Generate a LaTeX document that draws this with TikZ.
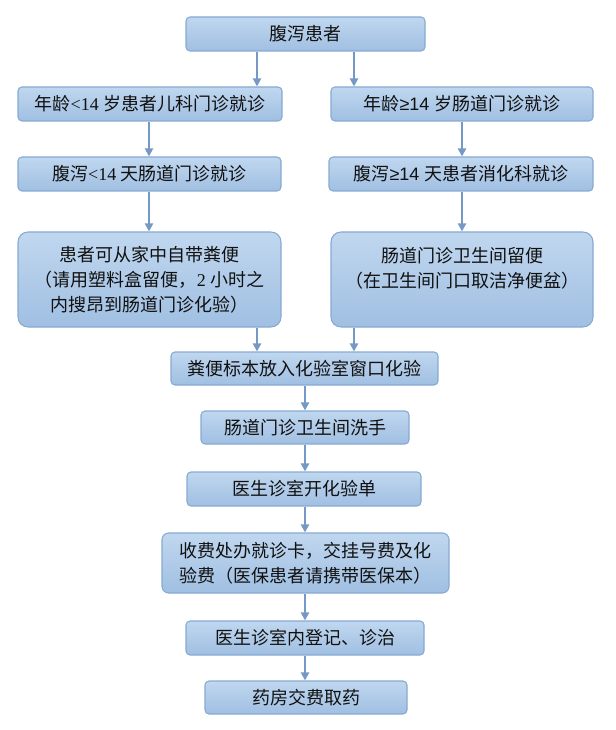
\documentclass[tikz,border=0pt]{standalone}
\usepackage{fontspec}
\setmainfont{Noto Sans CJK SC}
\newfontfamily\lsans{Liberation Sans}
\newfontfamily\lserif{Liberation Serif}
\usetikzlibrary{arrows.meta}
\definecolor{boxtop}{HTML}{C0D7EF}
\definecolor{boxbot}{HTML}{A0BFE2}
\definecolor{boxline}{HTML}{86AAD2}
\definecolor{arrcol}{HTML}{7499C4}
\definecolor{txt}{HTML}{111111}
\tikzset{
  box/.style={draw=boxline, line width=0.8pt, top color=boxtop, bottom color=boxbot,
    rounded corners=3pt, inner sep=0pt, text=txt, align=center,
    font=\fontsize{13.5pt}{18.75pt}\selectfont},
  bigbox/.style={box, rounded corners=7.5pt},
  arr/.style={draw=arrcol, line width=1.5pt, -{Triangle[width=6pt,length=6pt]}, arrcol}
}
\begin{document}
\begin{tikzpicture}[x=0.75pt,y=-0.75pt]
\useasboundingbox (0,0) rectangle (615,730);
\node[box, minimum width=179.25pt, minimum height=25.5pt] (top) at (305.5,34) {腹泻患者};
\node[box, minimum width=198pt, minimum height=25.5pt] (L1) at (150,104) {年龄{\lserif<14 }岁患者儿科门诊就诊};
\node[box, minimum width=196.5pt, minimum height=25.5pt] (R1) at (462,104) {年龄{\lsans ≥14 }岁肠道门诊就诊};
\node[box, minimum width=197.25pt, minimum height=25.5pt] (L2) at (149.5,174) {腹泻{\lserif<14 }天肠道门诊就诊};
\node[box, minimum width=198pt, minimum height=25.5pt] (R2) at (461,174) {腹泻{\lsans ≥14 }天患者消化科就诊};
\node[bigbox, minimum width=197.25pt, minimum height=71.25pt] (L3) at (149.5,279.5)
  {患者可从家中自带粪便\\（请用塑料盒留便，{\lserif 2 }小时之\\内搜昂到肠道门诊化验）};
\node[bigbox, minimum width=196.5pt, minimum height=71.25pt] (R3) at (462,279.5)
  {肠道门诊卫生间留便\\（在卫生间门口取洁净便盆）\\\mbox{}};
\node[box, minimum width=200.25pt, minimum height=24.75pt] (S1) at (304.5,368.5) {粪便标本放入化验室窗口化验};
\node[box, minimum width=156pt, minimum height=24.75pt] (S2) at (305,427.5) {肠道门诊卫生间洗手};
\node[box, minimum width=175.5pt, minimum height=25.5pt] (S3) at (304,489) {医生诊室开化验单};
\node[bigbox, rounded corners=5pt, minimum width=215.25pt, minimum height=45pt] (S4) at (305.5,563)
  {收费处办就诊卡，交挂号费及化\\验费（医保患者请携带医保本）};
\node[box, minimum width=178.5pt, minimum height=25.5pt] (S5) at (305,638) {医生诊室内登记、诊治};
\node[box, minimum width=151.5pt, minimum height=24.75pt] (S6) at (306,697.5) {药房交费取药};

\draw[arr] (top.south -| 257,0) -- (L1.north -| 257,0);
\draw[arr] (top.south -| 354,0) -- (R1.north -| 354,0);
\draw[arr] (L1.south -| 149,0) -- (L2.north -| 149,0);
\draw[arr] (R1.south -| 462,0) -- (R2.north -| 462,0);
\draw[arr] (L2.south -| 149,0) -- (L3.north -| 149,0);
\draw[arr] (R2.south -| 462,0) -- (R3.north -| 462,0);
\draw[arr] (L3.south -| 257,0) -- (S1.north -| 257,0);
\draw[arr] (R3.south -| 354,0) -- (S1.north -| 354,0);
\draw[arr] (S1.south -| 305,0) -- (S2.north -| 305,0);
\draw[arr] (S2.south -| 305,0) -- (S3.north -| 305,0);
\draw[arr] (S3.south -| 305,0) -- (S4.north -| 305,0);
\draw[arr] (S4.south -| 305,0) -- (S5.north -| 305,0);
\draw[arr] (S5.south -| 305,0) -- (S6.north -| 305,0);
\end{tikzpicture}
\end{document}
